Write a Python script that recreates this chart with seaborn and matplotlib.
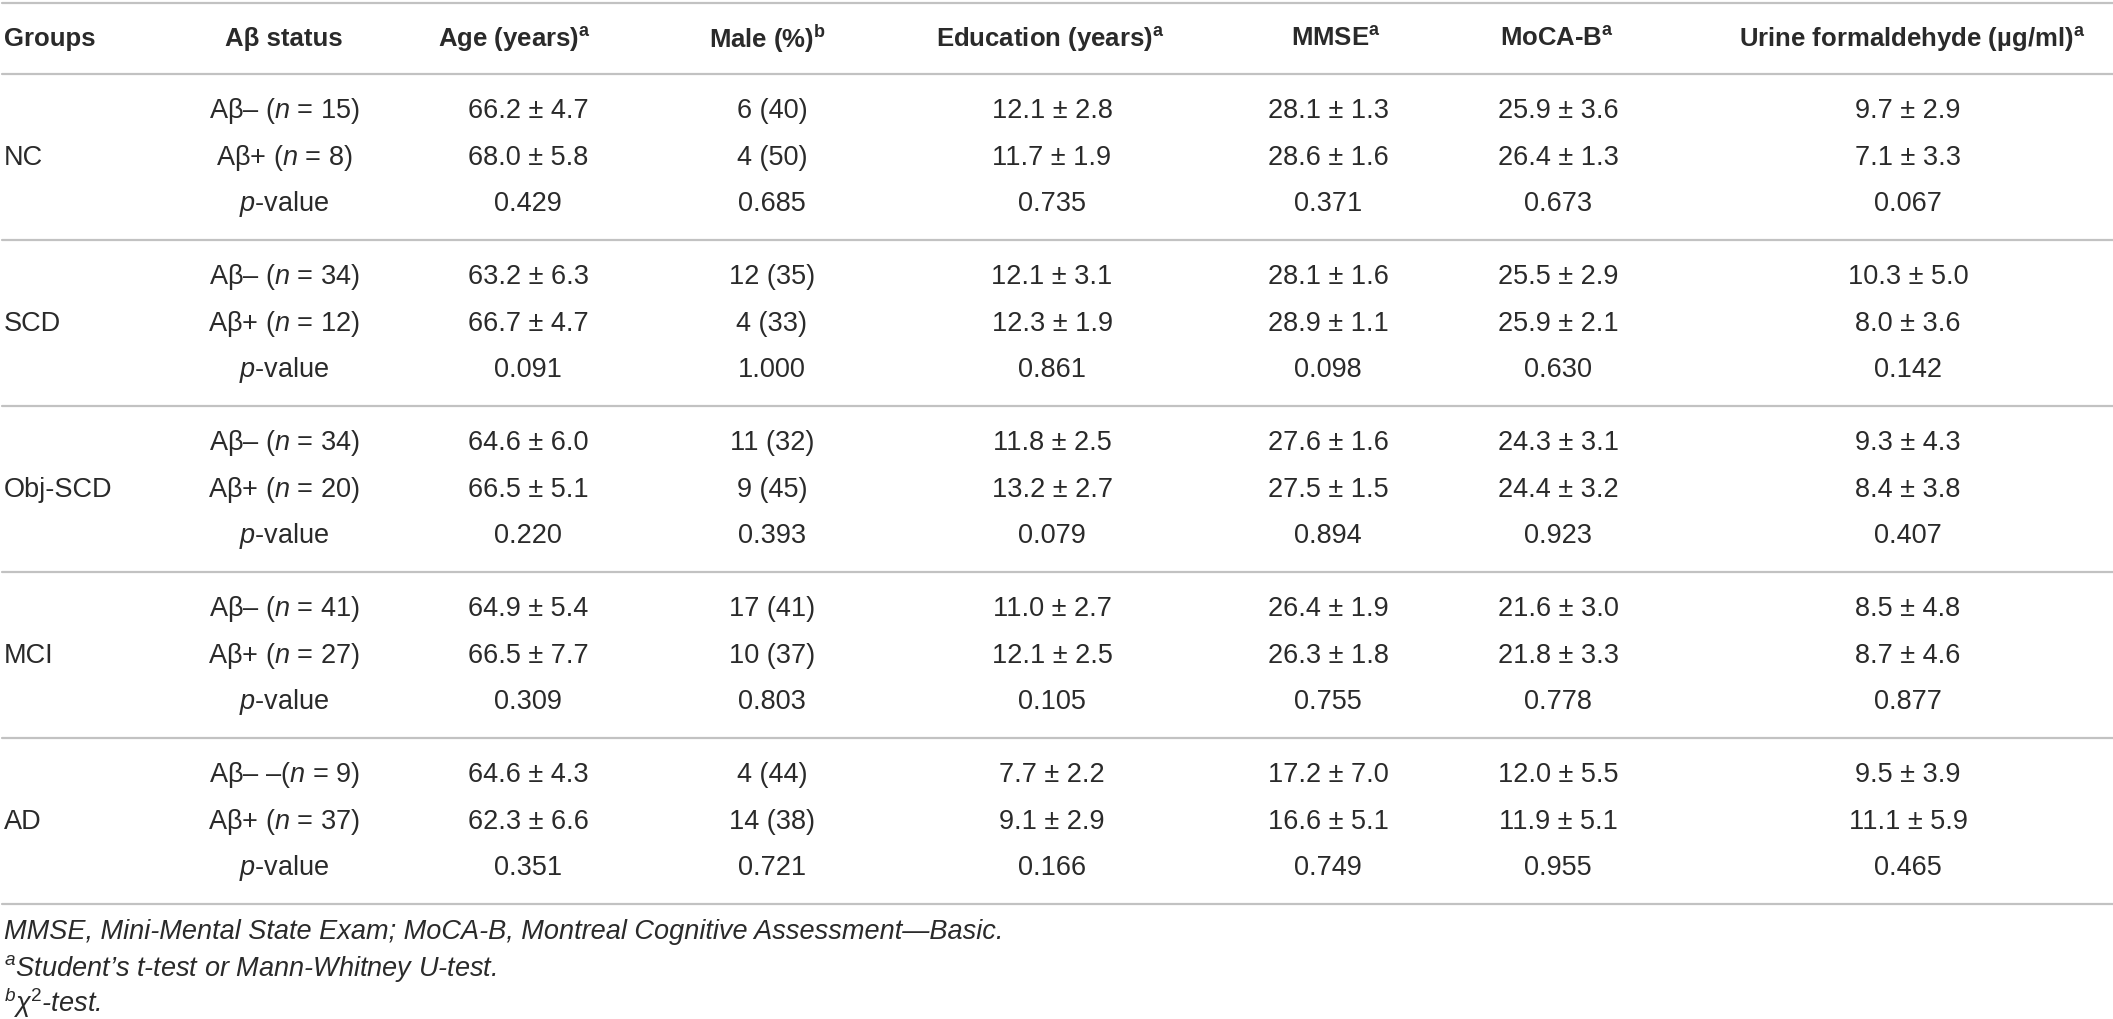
import numpy as np
import pandas as pd
import matplotlib
matplotlib.use('Agg')
import matplotlib.pyplot as plt
import seaborn as sns

# table data
groups = ['NC', 'SCD', 'Obj-SCD', 'MCI', 'AD']
n_neg = [15, 34, 34, 41, 9]
n_pos = [8, 12, 20, 27, 37]

age_mean = [66.2, 68.0, 63.2, 66.7, 64.6, 66.5, 64.9, 66.5, 64.6, 62.3]
age_sd = [4.7, 5.8, 6.3, 4.7, 6.0, 5.1, 5.4, 7.7, 4.3, 6.6]
age_p = ['0.429', '0.091', '0.220', '0.309', '0.351']

male_n = [6, 4, 12, 4, 11, 9, 17, 10, 4, 14]
male_pct = [40, 50, 35, 33, 32, 45, 41, 37, 44, 38]
male_p = ['0.685', '1.000', '0.393', '0.803', '0.721']

edu_mean = [12.1, 11.7, 12.1, 12.3, 11.8, 13.2, 11.0, 12.1, 7.7, 9.1]
edu_sd = [2.8, 1.9, 3.1, 1.9, 2.5, 2.7, 2.7, 2.5, 2.2, 2.9]
edu_p = ['0.735', '0.861', '0.079', '0.105', '0.166']

mmse_mean = [28.1, 28.6, 28.1, 28.9, 27.6, 27.5, 26.4, 26.3, 17.2, 16.6]
mmse_sd = [1.3, 1.6, 1.6, 1.1, 1.6, 1.5, 1.9, 1.8, 7.0, 5.1]
mmse_p = ['0.371', '0.098', '0.894', '0.755', '0.749']

moca_mean = [25.9, 26.4, 25.5, 25.9, 24.3, 24.4, 21.6, 21.8, 12.0, 11.9]
moca_sd = [3.6, 1.3, 2.9, 2.1, 3.1, 3.2, 3.0, 3.3, 5.5, 5.1]
moca_p = ['0.673', '0.630', '0.923', '0.778', '0.955']

urine_mean = [9.7, 7.1, 10.3, 8.0, 9.3, 8.4, 8.5, 8.7, 9.5, 11.1]
urine_sd = [2.9, 3.3, 5.0, 3.6, 4.3, 3.8, 4.8, 4.6, 3.9, 5.9]
urine_p = ['0.067', '0.142', '0.407', '0.877', '0.465']

headers = ['Groups', 'Aβ status', 'Age (years)$^{\\mathbf{a}}$', 'Male (%)$^{\\mathbf{b}}$',
           'Education (years)$^{\\mathbf{a}}$', 'MMSE$^{\\mathbf{a}}$', 'MoCA-B$^{\\mathbf{a}}$',
           'Urine formaldehyde (µg/ml)$^{\\mathbf{a}}$']

notes = ['MMSE, Mini-Mental State Exam; MoCA-B, Montreal Cognitive Assessment\u2014Basic.',
         '$^{\\mathit{a}}$Student\u2019s t-test or Mann-Whitney U-test.',
         '$^{\\mathit{b}}$\u03c7$^{2}$-test.']

sns.set_theme(style='white')
fam = ['Liberation Sans', 'DejaVu Sans']
plt.rcParams['font.family'] = fam
plt.rcParams['mathtext.fontset'] = 'custom'
plt.rcParams['mathtext.rm'] = 'Liberation Sans'
plt.rcParams['mathtext.it'] = 'Liberation Sans:italic'
plt.rcParams['mathtext.bf'] = 'Liberation Sans:bold'

ink = '#2a2a2a'
rule = '#c2c2c2'

fig = plt.figure(figsize=(21.13, 10.19), dpi=100)
ax = fig.add_axes([0, 0, 1, 1])
ax.set_xlim(0, 2113)
ax.set_ylim(1019, 0)
ax.axis('off')

# layout in pixels
head_x = [4, 284, 514, 767, 1050, 1336, 1557, 1912]
val_x = [4, 284, 528, 772, 1052, 1328, 1558, 1908]
head_y = 39
head_line = 74
block_h = 166
row_off = [37, 84, 130]
fs = 19.5
fs_head = 18.5
note_y = [932, 968, 1003]

def pm(m, s):
    return f'{m:.1f} \u00b1 {s:.1f}'

columns = [
    ([pm(m, s) for m, s in zip(age_mean, age_sd)], age_p),
    ([f'{a} ({b})' for a, b in zip(male_n, male_pct)], male_p),
    ([pm(m, s) for m, s in zip(edu_mean, edu_sd)], edu_p),
    ([pm(m, s) for m, s in zip(mmse_mean, mmse_sd)], mmse_p),
    ([pm(m, s) for m, s in zip(moca_mean, moca_sd)], moca_p),
    ([pm(m, s) for m, s in zip(urine_mean, urine_sd)], urine_p),
]

# rules
for y in [3, head_line] + [head_line + block_h * (i + 1) for i in range(len(groups))]:
    ax.axhline(y, xmin=2 / 2113, xmax=1, color=rule, lw=1.6)

# header
for i, h in enumerate(headers):
    ha = 'left' if i == 0 else 'center'
    ax.text(head_x[i], head_y, h, ha=ha, va='center', fontsize=fs_head, fontweight='bold', color=ink)

# body
for g, name in enumerate(groups):
    base = head_line + block_h * g
    ys = [base + o for o in row_off]
    ax.text(val_x[0], ys[1], name, ha='left', va='center', fontsize=fs, color=ink)
    if name == 'AD':
        neg_lab = f'Aβ\u2013 \u2013($\\mathit{{n}}$ = {n_neg[g]})'
    else:
        neg_lab = f'Aβ\u2013 ($\\mathit{{n}}$ = {n_neg[g]})'
    pos_lab = f'Aβ+ ($\\mathit{{n}}$ = {n_pos[g]})'
    ax.text(val_x[1], ys[0], neg_lab, ha='center', va='center', fontsize=fs, color=ink)
    ax.text(val_x[1], ys[1], pos_lab, ha='center', va='center', fontsize=fs, color=ink)
    ax.text(val_x[1], ys[2], '$\\mathit{p}$-value', ha='center', va='center', fontsize=fs, color=ink)
    for c, (vals, pv) in enumerate(columns):
        x = val_x[c + 2]
        ax.text(x, ys[0], vals[2 * g], ha='center', va='center', fontsize=fs, color=ink)
        ax.text(x, ys[1], vals[2 * g + 1], ha='center', va='center', fontsize=fs, color=ink)
        ax.text(x, ys[2], pv[g], ha='center', va='center', fontsize=fs, color=ink)

# footnotes
for y, t in zip(note_y, notes):
    ax.text(val_x[0], y, t, ha='left', va='center', fontsize=fs, style='italic', color=ink)

fig.savefig('out.png', dpi=100)
